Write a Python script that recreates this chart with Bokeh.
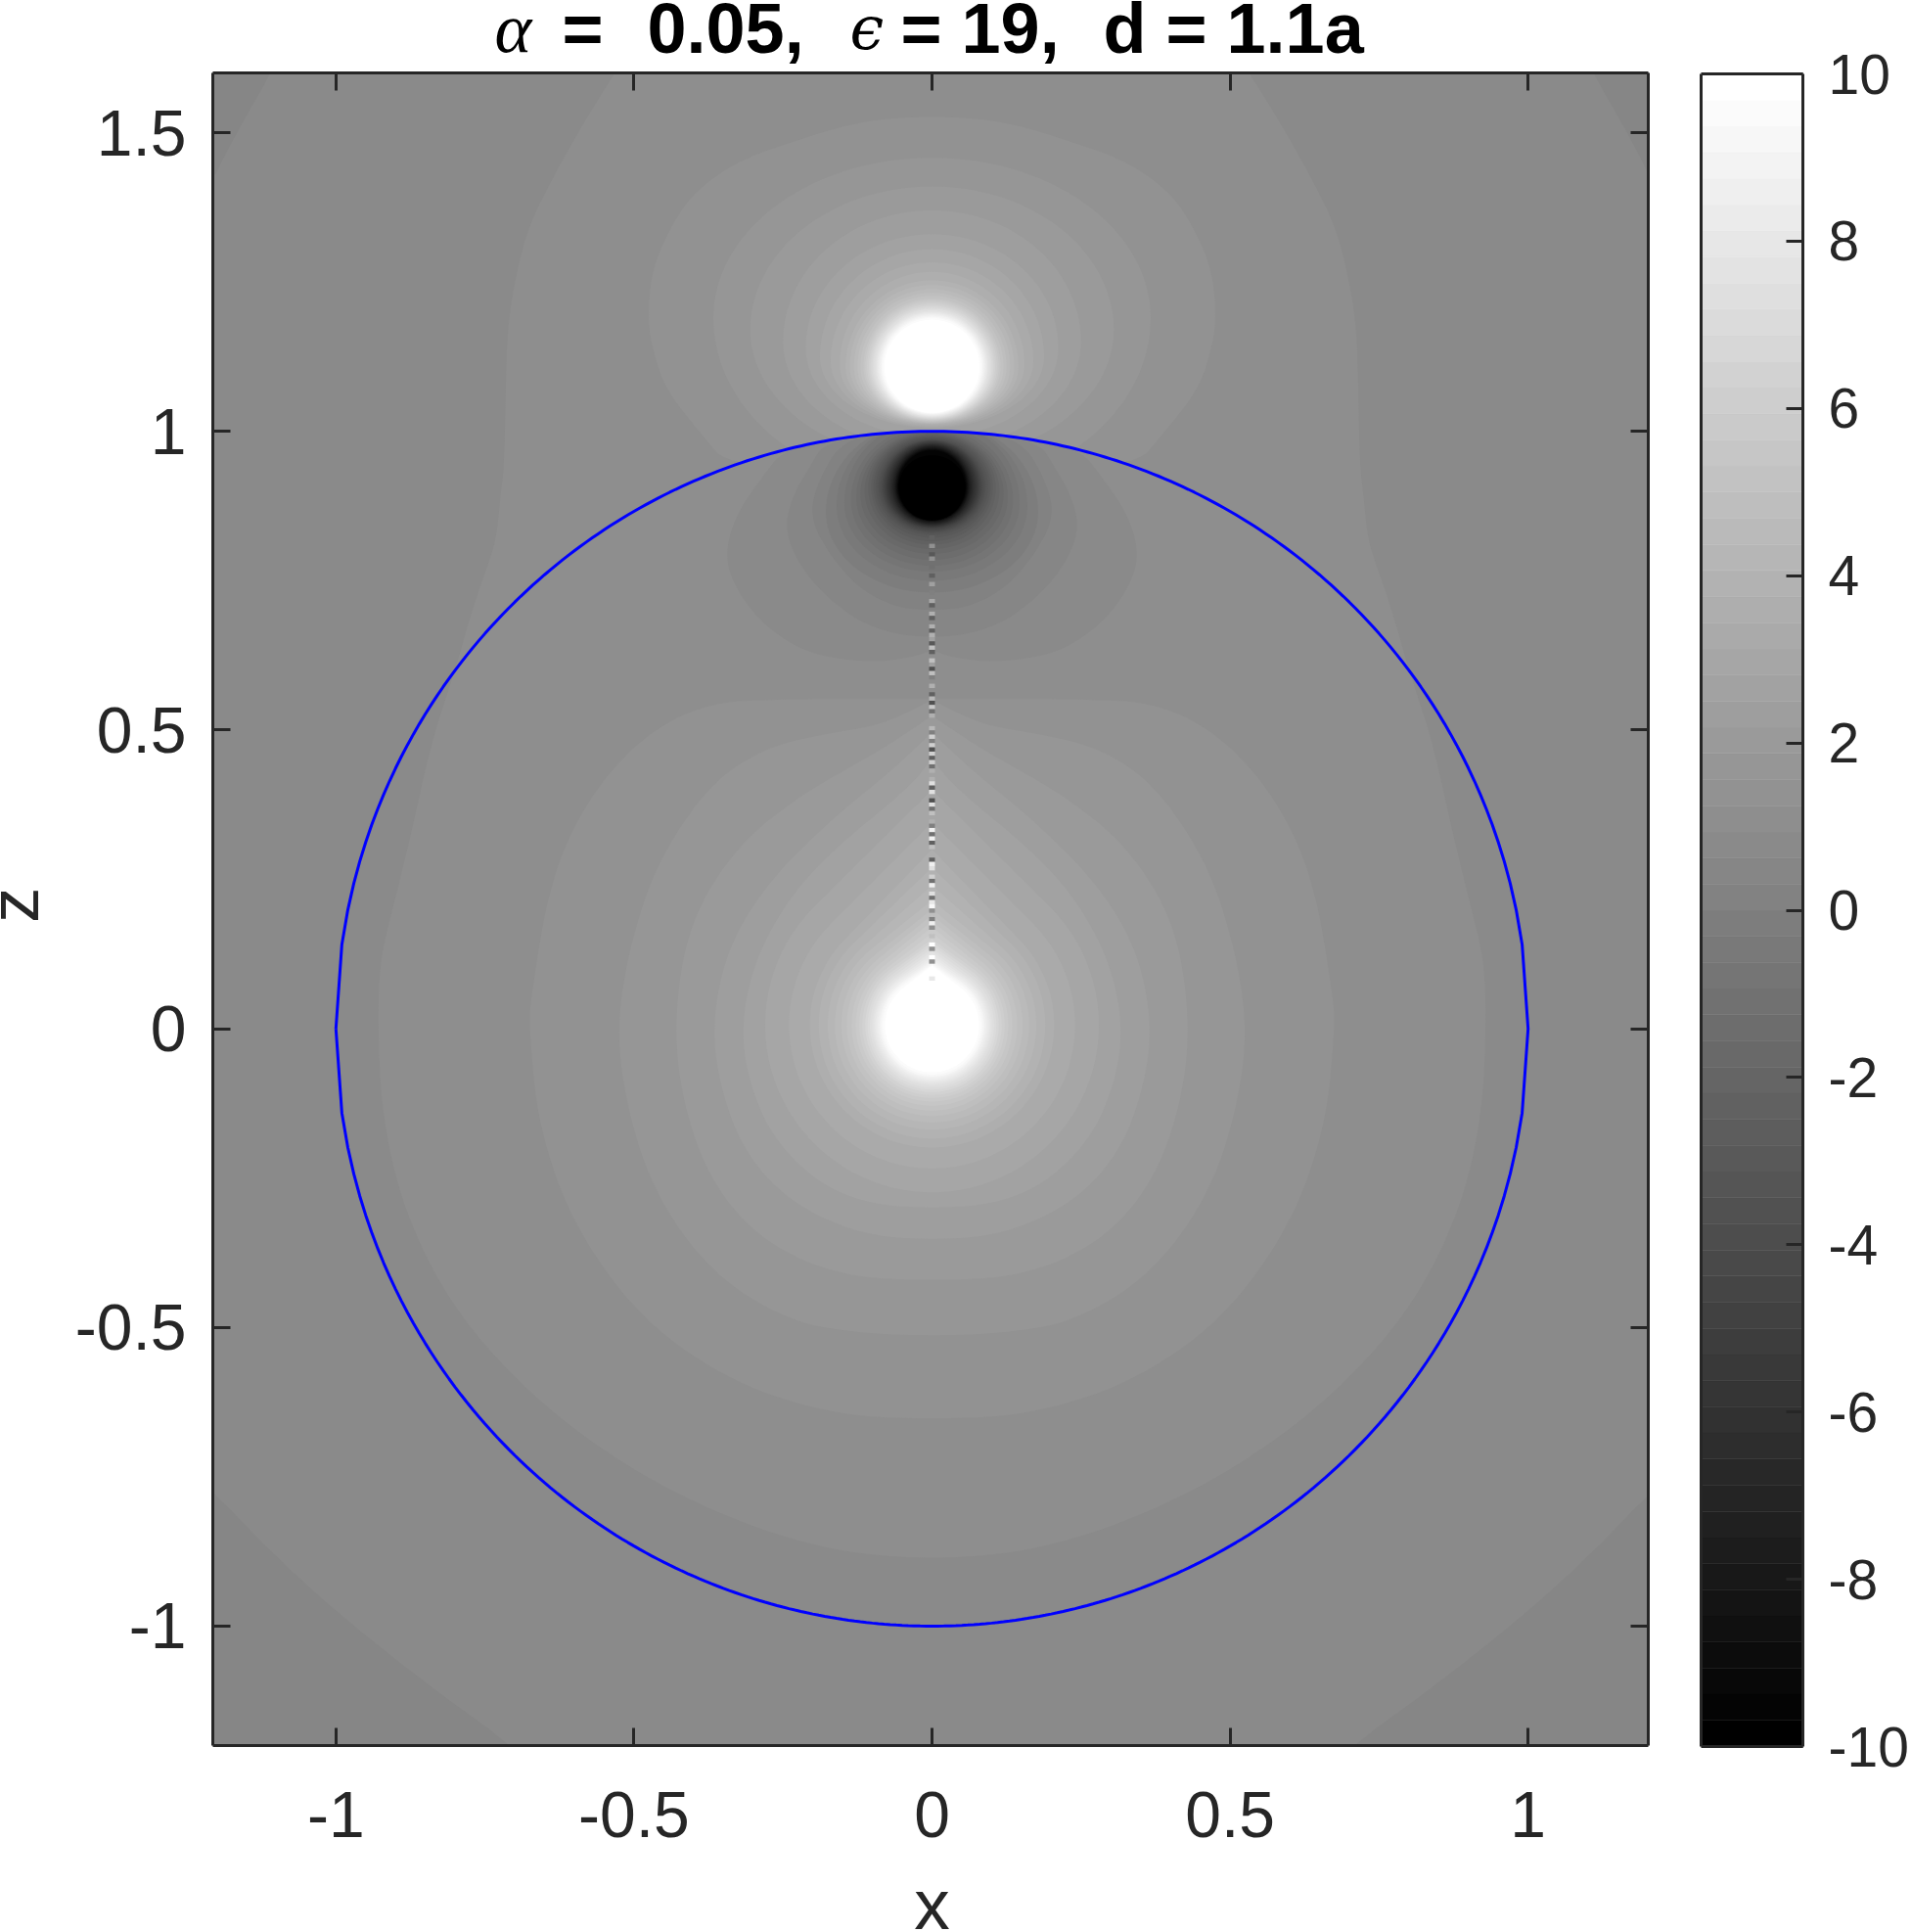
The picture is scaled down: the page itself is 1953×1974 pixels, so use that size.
import numpy as np
from bokeh.core.properties import value
from bokeh.embed import file_html
from bokeh.resources import INLINE
from bokeh.plotting import figure
from bokeh.layouts import row, column
from bokeh.models import LinearAxis, FixedTicker, Range1d

# ---------- data (x, z in axis units; level = index in the 64-step grey map) ----------
x_ticks = [-1, -0.5, 0, 0.5, 1]
x_tick_labels = ["-1", "-0.5", "0", "0.5", "1"]
z_ticks = [-1, -0.5, 0, 0.5, 1, 1.5]
z_tick_labels = ["-1", "-0.5", "0", "0.5", "1", "1.5"]
cbar_ticks = [-10, -8, -6, -4, -2, 0, 2, 4, 6, 8, 10]
cbar_tick_labels = ["-10", "-8", "-6", "-4", "-2", "0", "2", "4", "6", "8", "10"]
cbar_levels = list(range(64))

corner_top = [(-1.109, 1.6), (-1.152, 1.525), (-1.185, 1.465), (-1.207, 1.42), (-1.3, 1.36), (-1.3, 1.7), (-1.06, 1.7)]
corner_bottom = [(-1.3, -0.69), (-1.205, -0.776), (-1.10, -0.885), (-0.99, -0.984), (-0.85, -1.095),
                 (-0.705, -1.2), (-0.60, -1.3), (-1.3, -1.3)]

band_A = [(0, 1.7), (-0.47, 1.7), (-0.532, 1.6), (-0.589, 1.509), (-0.638, 1.421), (-0.676, 1.345), (-0.698, 1.263),
          (-0.712, 1.175), (-0.715, 1.083), (-0.7175, 0.946), (-0.724, 0.891), (-0.731, 0.82), (-0.744, 0.78),
          (-0.774, 0.693), (-0.80, 0.6), (-0.84, 0.48), (-0.874, 0.325), (-0.905, 0.2), (-0.926, 0.116), (-0.93, 0.012),
          (-0.923, -0.145), (-0.887, -0.302), (-0.81, -0.459), (-0.693, -0.595), (-0.55, -0.71), (-0.381, -0.804),
          (-0.187, -0.872), (0, -0.89)]

band_top_36 = [(0, 1.528), (-0.12, 1.52), (-0.25, 1.48), (-0.33, 1.45), (-0.40, 1.40), (-0.44, 1.34), (-0.47, 1.27),
               (-0.477, 1.19), (-0.469, 1.137), (-0.447, 1.07), (-0.387, 0.995), (-0.34, 0.94), (0, 0.9)]

up_level = list(range(37, 64))
up_r = [.367, .305, .25, .212, .188, .17, .155, .145, .138, .131, .125, .12, .115, .112, .109, .106, .103, .1, .098,
        .095, .093, .091, .089, .087, .085, .083, .08]
up_cz = [1.19, 1.17, 1.15, 1.14, 1.125, 1.118, 1.112] + [1.108] * 20
up_top = [1.458, 1.41, 1.37, 1.33, 1.305, 1.283, 1.267, 1.253, 1.245, 1.238, 1.232, 1.227, 1.222, 1.219, 1.216, 1.213,
          1.21, 1.207, 1.205, 1.202, 1.2, 1.198, 1.196, 1.194, 1.192, 1.19, 1.187]
up_bot = [.90, .95, .97, .99, 1.006, 1.008, 1.01, 1.012, 1.013, 1.014, 1.015, 1.016, 1.017, 1.018, 1.019, 1.02, 1.021,
          1.022, 1.023, 1.024, 1.025, 1.026, 1.027, 1.028, 1.029, 1.03, 1.031]

band_low = {
    36: [(0, .552), (-.255, .552), (-.38, .545), (-.485, .49), (-.576, .388), (-.64, .252), (-.673, .053), (-.676, 0),
         (-.66, -.166), (-.60, -.333), (-.485, -.49), (-.33, -.595), (-.16, -.647), (0, -.654)],
    37: [(0, .55), (-.009, .546), (-.085, .508), (-.195, .491), (-.278, .47), (-.36, .42), (-.43, .33), (-.485, .22),
         (-.528, .04), (-.52, -.1), (-.47, -.27), (-.37, -.41), (-.24, -.49), (-.12, -.51), (0, -.514)],
    38: [(0, .524), (-.006, .52), (-.05, .49), (-.096, .461), (-.226, .388), (-.329, .304), (-.407, .179), (-.433, .02),
         (-.42, -.12), (-.37, -.26), (-.28, -.36), (-.15, -.415), (0, -.422)],
    39: [(0, .5), (-.006, .49), (-.07, .43), (-.174, .346), (-.278, .242), (-.342, .137), (-.368, .02), (-.36, -.08),
         (-.32, -.2), (-.24, -.29), (-.12, -.345), (0, -.354)],
    40: [(0, .47), (-.006, .44), (-.057, .388), (-.161, .304), (-.239, .221), (-.297, .116), (-.32, .01), (-.31, -.08),
         (-.27, -.18), (-.19, -.26), (-.1, -.295), (0, -.30)],
}
low_level = list(range(41, 64))
low_r = [.28, .24, .205, .19, .175, .163, .152, .143, .135, .128, .122, .117, .112, .108, .104, .1, .097, .094, .091,
         .088, .086, .083, .079]
low_apex = [.40, .345, .30, .27, .24, .215, .20, .19, .18, .17, .16, .15, .145, .14, .135, .13, .125, .12, .116, .113,
            .11, .108, .106]
low_cz = 0.006

band_neg = {
    34: [(0, .635), (-.03, .622), (-.1, .613), (-.2, .625), (-.27, .665), (-.32, .72), (-.349, .786), (-.33, .86),
         (-.28, .93), (-.25, .968), (-.15, .989), (0, 1.0)],
    33: [(0, .655), (-.06, .66), (-.12, .68), (-.18, .725), (-.225, .78), (-.247, .836), (-.235, .89), (-.2, .95),
         (-.18, .98), (-.09, .996), (0, 1.0)],
    32: [(0, .70), (-.06, .705), (-.12, .735), (-.17, .79), (-.206, .857), (-.19, .92), (-.15, .985), (-.07, .997), (0, 1.0)],
}
neg_level = list(range(31, -1, -1))
neg_r = [.178, .16, .147, .136, .127, .12, .113, .107, .102, .098, .094, .09, .087, .084, .082, .08, .078, .076, .074,
         .072, .07, .068, .066, .065, .063, .062, .061, .06, .059, .058, .057, .056]
neg_cz = [.865, .875, .88, .885, .89, .895, .9, .905] + [.907] * 24
neg_top = [1.02, 1.02, 1.02, 1.01, 1.005, 1.0, .998, .996, .994, .992, .99, .988, .986, .985, .984, .983, .982, .981, .98,
           .979, .978, .977, .976, .975, .974, .973, .972, .971, .97, .969, .968, .96]
neg_bot = [.73, .75, .765, .775, .785, .795, .803, .81, .816, .822, .827, .83, .832, .834, .836, .838, .839, .84, .841,
           .842, .843, .844, .845, .846, .847, .848, .849, .85, .85, .851, .851, .851]

line_row = [0, 2, 4, 5, 7, 9, 11, 13, 15, 16, 18, 19, 21, 22, 23, 24, 25, 26, 27, 29, 30, 31, 32, 33, 35, 37, 38, 39, 40, 41,
            42, 45, 46, 47, 48, 49, 50, 51, 52, 53, 54, 55, 57, 58, 59, 60, 62, 63, 64, 65, 67, 68, 69, 70, 71, 72, 73,
            76, 77, 78, 80, 81, 82, 84, 85, 86, 87, 88, 90, 91, 92, 94, 96, 97, 99, 100, 104]
line_grey = [0x60, 0x90, 0x58, 0x90, 0x70, 0x60, 0xa0, 0x80, 0xa8, 0x60, 0xb0, 0x60, 0xb0, 0x60, 0xb0, 0xa0, 0x58, 0xc0,
             0x60, 0xc0, 0xa0, 0x50, 0xc0, 0x80, 0xb0, 0x60, 0xb8, 0x50, 0xc8, 0x70, 0xb0, 0xb8, 0x80, 0xd0, 0x80, 0xd0,
             0x50, 0xd0, 0x60, 0xd0, 0x70, 0xb0, 0xb0, 0xe0, 0x60, 0xe0, 0x50, 0xe0, 0x70, 0xc0, 0xb0, 0x80, 0xf0, 0x70,
             0xf0, 0x60, 0xc0, 0x60, 0xf0, 0xe0, 0xd0, 0x70, 0xf0, 0xe0, 0x70, 0xe8, 0xf8, 0x90, 0x80, 0xf0, 0x90, 0xc0,
             0xff, 0x90, 0xff, 0x90, 0xe8]

title_parts = [("α", 505, "Liberation Serif", "italic", "72px"), ("=", 574, "Liberation Sans", "bold", "72px"),
               ("0.05,", 661, "Liberation Sans", "bold", "72px"), ("ϵ", 868, "DejaVu Serif", "italic", "62px"),
               ("= 19,", 920, "Liberation Sans", "bold", "72px"), ("d = 1.1a", 1127, "Liberation Sans", "bold", "72px")]

TICK_COLOR = "#262626"


def grey(level):
    v = int(round(level / 63 * 255))
    return f"#{v:02x}{v:02x}{v:02x}"


def rounded(xs, zs, passes=3):
    """Corner-cut the straight edges between contour vertices, for drawing only."""
    xs, zs = np.array(xs, float), np.array(zs, float)
    for _ in range(passes):
        nx, nz = np.roll(xs, -1), np.roll(zs, -1)
        xs = np.ravel(np.column_stack([0.75 * xs + 0.25 * nx, 0.25 * xs + 0.75 * nx]))
        zs = np.ravel(np.column_stack([0.75 * zs + 0.25 * nz, 0.25 * zs + 0.75 * nz]))
    return xs.tolist(), zs.tolist()


def mirror(half):
    pts = list(half) + [(-x, z) for x, z in reversed(half) if x != 0]
    return [p[0] for p in pts], [p[1] for p in pts]


def outside(xs, zs):
    xs, zs = np.array(xs, float), np.array(zs, float)
    rr = np.hypot(xs, zs)
    k = np.where(rr < 1, 1 / rr, 1)
    return (xs * k).tolist(), (zs * k).tolist()


def inside(xs, zs):
    xs, zs = np.array(xs, float), np.array(zs, float)
    rr = np.hypot(xs, zs)
    k = np.where(rr > 0.998, 0.998 / rr, 1)
    return (xs * k).tolist(), (zs * k).tolist()


t = np.linspace(0, 2 * np.pi, 97)[:-1]


def ring(r, cz, top, bot):
    xs = r * np.cos(t)
    s = np.sin(t)
    zs = cz + np.where(s >= 0, (top - cz) * s, (cz - bot) * s)
    return xs.tolist(), zs.tolist()


def teardrop(r, cz, apex):
    d = apex - cz
    phi = np.arccos(r / d)
    a = np.linspace(phi, 2 * np.pi - phi, 72)
    xs = [0.0] + (r * np.sin(a)).tolist()
    zs = [apex] + (cz + r * np.cos(a)).tolist()
    return xs, zs


P_xs, P_ys, P_col = [], [], []


def add(xs, zs, level):
    P_xs.append(xs)
    P_ys.append(zs)
    P_col.append(grey(level))


for sgn in (1, -1):
    add(*rounded([sgn * p[0] for p in corner_top], [p[1] for p in corner_top], 1), 33)
    add(*rounded([sgn * p[0] for p in corner_bottom], [p[1] for p in corner_bottom], 1), 33)
add(*rounded(*mirror(band_A)), 35)
add(*outside(*rounded(*mirror(band_top_36))), 36)
for lv, r, cz, top, bot in zip(up_level, up_r, up_cz, up_top, up_bot):
    add(*outside(*ring(r, cz, top, bot)), lv)
for lv in sorted(band_low):
    add(*rounded(*mirror(band_low[lv])), lv)
for lv, r, a in zip(low_level, low_r, low_apex):
    add(*teardrop(r, low_cz, a), lv)
for lv in (34, 33, 32):
    add(*inside(*rounded(*mirror(band_neg[lv]))), lv)
for lv, r, cz, top, bot in zip(neg_level, neg_r, neg_cz, neg_top, neg_bot):
    add(*inside(*ring(r, cz, top, bot)), lv)

# ---------- main axes ----------
p = figure(width=1648, height=1843, output_backend="svg", toolbar_location=None,
           x_range=Range1d(-1.2065, 1.2016), y_range=Range1d(-1.2, 1.6),
           min_border_left=157, min_border_right=24, min_border_top=4, min_border_bottom=130,
           background_fill_color=grey(34), border_fill_color="white", outline_line_color=None)
p.grid.visible = False
p.patches(P_xs, P_ys, fill_color=P_col, line_color=None)

row_z = 0.8224 - 0.0071 * np.array(line_row)
p.quad(left=-0.0049, right=0.0049, top=row_z + 0.0036, bottom=row_z - 0.0036,
       fill_color=[f"#{g:02x}{g:02x}{g:02x}" for g in line_grey], line_color=None)

cx = np.arange(-100, 101) / 100
p.line(np.r_[cx, cx[::-1]], np.r_[np.sqrt(1 - cx**2), -np.sqrt(1 - cx[::-1]**2)], line_color="#0000ff", line_width=3)


def style_axis(ax, ticks, labels, font):
    ax.ticker = FixedTicker(ticks=ticks)
    ax.major_label_overrides = dict(zip(ticks, labels))
    ax.major_tick_in = 18
    ax.major_tick_out = 0
    ax.minor_tick_in = 0
    ax.minor_tick_out = 0
    ax.major_tick_line_color = TICK_COLOR
    ax.major_tick_line_width = 3
    ax.axis_line_color = TICK_COLOR
    ax.axis_line_width = 3
    ax.major_label_text_color = TICK_COLOR
    ax.major_label_text_font = "Liberation Sans"
    ax.major_label_text_font_size = font


def bare_axis(ticks):
    ax = LinearAxis()
    style_axis(ax, ticks, [""] * len(ticks), "0px")
    ax.major_label_standoff = 0
    return ax


style_axis(p.xaxis[0], x_ticks, x_tick_labels, "66px")
p.xaxis[0].major_label_standoff = 47
style_axis(p.yaxis[0], z_ticks, z_tick_labels, "66px")
p.yaxis[0].major_label_standoff = 27
p.add_layout(bare_axis(x_ticks), "above")
p.add_layout(bare_axis(z_ticks), "right")


def strip(w, h):
    f = figure(width=w, height=h, output_backend="svg", toolbar_location=None,
               x_range=Range1d(0, w), y_range=Range1d(h, 0), x_axis_type=None, y_axis_type=None,
               min_border=0, outline_line_color=None, background_fill_color="white", border_fill_color="white")
    f.grid.visible = False
    return f


# title, in a strip above the axes
head = strip(1708, 70)
for txt, px, fam, sty, size in title_parts:
    head.text(x=[px], y=[28], text=[txt], text_font=value(fam), text_font_style=sty, text_font_size=value(size),
              text_color="black", text_align="left", text_baseline="middle")

# axis titles, in strips beside and below the axes
zstrip = strip(60, 1843)
zstrip.text(x=[13], y=[917], text=["z"], text_font=value("Liberation Sans"), text_font_size=value("73px"),
            text_color=TICK_COLOR, text_align="center", text_baseline="middle", angle=[np.pi / 2])
foot = strip(1708, 58)
foot.text(x=[952], y=[32], text=["x"], text_font=value("Liberation Sans"), text_font_size=value("73px"),
          text_color=TICK_COLOR, text_align="center", text_baseline="middle")

# ---------- colour bar ----------
cb = figure(width=245, height=1971, output_backend="svg", toolbar_location=None,
            x_range=Range1d(0, 1), y_range=Range1d(-10, 10), x_axis_type=None, y_axis_location="right",
            min_border_left=30, min_border_right=111, min_border_top=75, min_border_bottom=187,
            background_fill_color="white", border_fill_color="white", outline_line_color=None)
cb.grid.visible = False
edges = -10 + np.array(cbar_levels + [64]) * 20 / 64
cols = [grey(v) for v in cbar_levels]
cb.quad(left=0, right=1, bottom=edges[:-1], top=edges[1:], fill_color=cols, line_color=cols, line_width=0.5)
style_axis(cb.yaxis[0], cbar_ticks, cbar_tick_labels, "57px")
cb.yaxis[0].major_tick_in = 17
cb.yaxis[0].major_label_standoff = 26
cb.add_layout(bare_axis([]), "left")
cb.add_layout(bare_axis([]), "above")
cb.add_layout(bare_axis([]), "below")

page = row(column(head, row(zstrip, p, spacing=0), foot, spacing=0), cb, spacing=0)
open("out.html", "w").write(file_html(page, INLINE))
